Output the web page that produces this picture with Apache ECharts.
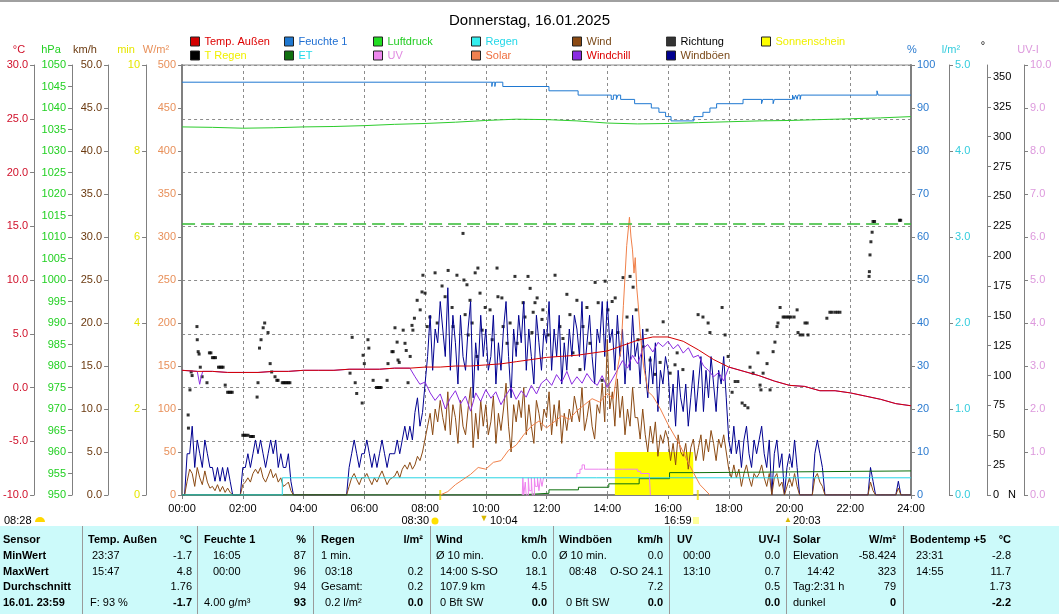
<!DOCTYPE html>
<html><head><meta charset="utf-8">
<script src="https://cdn.jsdelivr.net/npm/echarts@6/dist/echarts.min.js"></script>
<style>html,body{margin:0;padding:0;background:#fff}#c{width:1059px;height:614px}</style>
</head><body><div id="c"></div><script>
// ---------------- DATA ----------------
const titleText = 'Donnerstag, 16.01.2025';
const xTickLabels = ['00:00','02:00','04:00','06:00','08:00','10:00','12:00','14:00','16:00','18:00','20:00','22:00','24:00'];
const degTicks = [0,25,50,75,100,125,150,175,200,225,250,275,300,325,350];

// temperature every 30 min (°C)
const temp30 = [1.6,1.5,1.5,1.4,1.4,1.4,1.5,1.5,1.6,1.6,1.6,1.7,1.7,1.7,1.8,1.8,1.9,1.9,2.0,2.0,2.1,2.2,2.4,2.6,2.8,2.9,3.0,3.2,3.4,3.9,4.4,4.7,4.7,4.3,3.5,2.6,1.9,1.5,1.1,0.6,0.2,0.1,-0.3,-0.3,-0.5,-0.8,-1.1,-1.5,-1.7];
// pressure hourly (hPa)
const press60 = [1035.6,1035.5,1035.3,1035.4,1035.6,1035.7,1035.9,1036.2,1036.4,1036.7,1037.1,1037.4,1037.3,1037.0,1036.5,1036.3,1036.4,1036.6,1036.8,1037.0,1037.1,1037.3,1037.5,1037.7,1038.0];
const pressureRef = 1013;
// humidity change points [hour, %]
const humidity = [[0,96],[10.2,95],[10.22,96],[10.3,95],[10.32,96],[10.56,95],[12.08,94],[13.04,93],[14.13,92],[14.2,93],[14.3,92],[14.35,93],[14.44,92],[14.9,91],[15.45,90],[15.7,89],[15.92,88],[16.1,87],[16.85,88],[17.15,89],[17.38,90],[17.6,91],[18.47,92],[19.08,91],[19.12,92],[19.46,91],[19.5,92],[20.1,93],[20.15,92],[20.2,93],[20.25,92],[20.28,93],[20.35,92],[20.38,93],[22.88,94],[22.92,93],[24,93]];
// rain total [hour, l/m²]
const rain = [[0,0],[3.3,0],[3.3,0.2],[24,0.2]];
// ET change points [hour, l/m²]
const et = [[0,0],[11.05,0.02],[12.08,0.06],[13.05,0.09],[14.05,0.13],[15.05,0.19],[16.05,0.26],[17.05,0.28],[24,0.28]];
// UV [hour, UV-I]
const uv = [[11.2,0],[11.22,0.4],[11.25,0],[11.3,0.3],[11.33,0],[11.4,0.4],[11.43,0.1],[11.5,0.4],[11.53,0],[11.6,0.4],[11.63,0.2],[11.7,0.4],[11.75,0.1],[11.8,0.4],[11.85,0.2],[11.9,0.4],[12.0,0.4],[12.5,0.4],[12.9,0.4],[13.0,0.5],[13.1,0.6],[13.17,0.7],[13.25,0.6],[13.7,0.6],[14.0,0.6],[14.5,0.6],[14.9,0.6],[15.0,0.55],[15.1,0.5],[15.38,0.5],[15.42,0]];
// sunshine minutes per 10 min [hour, min]
const sunshine = [[14.25,1],[14.42,1],[14.58,1],[14.75,1],[14.92,1],[15.08,1],[15.25,1],[15.42,1],[15.58,1],[15.75,1],[15.92,1],[16.08,1],[16.25,1],[16.42,1],[16.58,1],[16.83,0]];
// solar radiation [hour, W/m²]
const solar = [[8.5,0],[8.75,4],[9.0,12],[9.25,18],[9.5,24],[9.75,32],[10.0,30],[10.25,38],[10.5,40],[10.75,52],[11.0,58],[11.25,70],[11.5,80],[11.75,86],[12.0,78],[12.25,85],[12.5,92],[12.75,88],[13.0,98],[13.25,105],[13.5,112],[13.75,108],[14.0,118],[14.2,112],[14.35,150],[14.45,168],[14.53,220],[14.64,290],[14.73,323],[14.78,300],[14.83,285],[14.88,258],[14.92,276],[14.97,241],[15.02,221],[15.08,190],[15.19,151],[15.35,120],[15.5,115],[15.75,100],[16.0,82],[16.39,58],[16.7,35],[17.05,12],[17.38,0]];
// wind gusts every 5 min (km/h)
const gust5 = [
0,0,4.8,4.8,8.0,3.2,6.4,4.8,3.2,6.4,4.8,3.2,
3.2,1.6,3.2,1.6,3.2,1.6,3.2,1.6,0,0,0,0,
3.2,3.2,4.8,3.2,4.8,6.4,4.8,6.4,4.8,3.2,4.8,6.4,
4.8,6.4,3.2,4.8,3.2,3.2,4.8,1.6,0,0,0,0,
0,0,0,0,0,0,0,0,0,0,0,0,
0,0,0,0,0,0,3.2,4.8,6.4,4.8,3.2,4.8,
4.8,6.4,4.8,3.2,4.8,3.2,4.8,6.4,4.8,3.2,4.8,4.8,
4.8,6.4,4.8,6.4,8.0,6.4,8.0,6.4,9.6,11.3,8.0,9.6,
12.9,16.1,20.9,14.5,19.3,17.7,22.5,19.3,16.1,24.1,14.5,20.9,
17.7,12.9,20.9,16.1,14.5,19.3,22.5,11.3,17.7,14.5,20.9,16.1,
19.3,14.5,16.1,20.9,12.9,17.7,14.5,19.3,22.5,16.1,11.3,19.3,
16.1,20.9,17.7,22.5,14.5,19.3,16.1,12.9,20.9,17.7,14.5,19.3,
17.7,22.5,14.5,19.3,16.1,20.9,12.9,17.7,14.5,19.3,16.1,20.9,
19.3,16.1,22.5,14.5,17.7,20.9,16.1,12.9,19.3,17.7,22.5,16.1,
22.5,17.7,19.3,14.5,20.9,16.1,19.3,12.9,17.7,14.5,20.9,16.1,
17.7,12.9,19.3,14.5,11.3,16.1,12.9,17.7,9.7,14.5,12.9,16.1,
14.5,9.7,12.9,8.0,14.5,11.3,9.7,12.9,8.0,11.3,14.5,9.7,
12.9,16.1,9.7,14.5,11.3,16.1,12.9,9.7,14.5,12.9,16.1,11.3,
6.4,4.8,8.0,4.8,6.4,3.2,6.4,8.0,4.8,3.2,6.4,4.8,
6.4,8.0,4.8,3.2,6.4,0,4.8,6.4,3.2,4.8,0,3.2,
4.8,3.2,6.4,3.2,0,0,0,0,0,0,4.8,6.4,
4.8,3.2,0,0,0,0,0,0,0,0,0,0,
0,0,0,0,0,0,0,0,3.2,1.6,0,0,
0,0,0,0,0,0,0,1.6,0,0,0,0,
0];
// wind speed every 5 min (km/h)
const wind5 = [
0,0,1.6,3.0,2.5,1.0,3.2,2.0,1.2,2.8,1.5,0.8,
1.0,0.5,1.2,0.4,1.0,0.3,0.8,0.3,0,0,0,0,
1.2,1.5,2.0,1.5,2.5,3.0,2.5,3.2,2.0,1.5,2.2,3.0,
2.0,2.5,1.5,2.0,1.0,1.2,1.5,0.5,0,0,0,0,
0,0,0,0,0,0,0,0,0,0,0,0,
0,0,0,0,0,0,1.0,2.0,2.5,1.8,1.2,2.0,
2.0,2.5,1.8,1.2,2.0,1.5,2.2,2.8,2.0,1.2,1.8,2.0,
2.2,2.8,2.0,3.0,3.5,3.0,3.8,3.0,3.5,4.5,4.0,5.0,
6.5,8.0,9.5,7.0,10.0,8.5,11.0,9.0,7.5,12.0,7.0,10.5,
9.0,6.0,11.0,8.0,7.0,10.0,12.5,5.5,9.5,6.5,11.0,8.0,
10.5,7.0,8.5,11.5,6.0,9.5,7.5,10.0,13.0,8.0,5.0,10.5,
8.5,11.0,9.0,12.5,7.0,10.5,8.0,6.0,11.0,9.5,7.5,10.0,
9.0,12.0,7.0,10.5,8.0,11.0,6.0,9.5,7.5,10.0,8.5,11.5,
10.0,8.5,12.5,7.5,9.0,11.0,8.0,6.5,10.5,9.5,13.0,8.5,
18.1,10.0,12.0,8.0,13.5,9.0,11.5,7.0,10.0,8.0,12.5,9.0,
9.0,6.5,10.0,7.0,5.0,8.0,6.0,8.5,4.5,7.0,6.0,7.5,
6.5,4.0,6.0,3.5,7.0,5.0,4.5,6.0,3.0,5.5,6.5,4.0,
5.5,7.0,4.0,6.5,5.0,7.5,6.0,4.0,6.5,5.5,7.0,5.0,
3.0,2.0,3.5,2.0,3.0,1.0,2.5,3.5,2.0,1.0,2.5,2.0,
2.5,3.5,2.0,1.0,2.5,0,2.0,2.5,1.0,1.5,0,1.0,
2.0,1.0,2.5,1.0,0,0,0,0,0,0,2.0,2.5,
1.5,1.0,0,0,0,0,0,0,0,0,0,0,
0,0,0,0,0,0,0,0,1.5,0.5,0,0,
0,0,0,0,0,0,0,0.8,0,0,0,0,
0];
// windchill [hour, °C]
const windchill = [[0,1.6],[0.5,1.5],[0.58,0.3],[0.63,1.0],[0.68,1.5],[1,1.5],[1.5,1.4],[2,1.4],[2.5,1.4],[3,1.5],[3.5,1.5],[4,1.6],[4.5,1.6],[5,1.6],[5.5,1.7],[6,1.7],[6.5,1.7],[7,1.8],[7.5,1.8],[7.67,1.0],[7.83,0.3],[8.0,0.5],[8.17,-0.5],[8.33,-1.2],[8.5,-0.6],[8.67,-2.0],[8.83,-1.0],[9.0,-0.3],[9.17,-1.5],[9.33,-0.8],[9.5,-2.2],[9.67,-0.5],[9.83,-1.3],[10.0,-0.2],[10.17,-1.0],[10.33,-0.4],[10.5,-1.6],[10.67,-0.7],[10.83,0.0],[11.0,-1.1],[11.17,-0.3],[11.33,-0.9],[11.5,0.2],[11.67,-0.6],[11.83,0.4],[12.0,0.8],[12.17,0.2],[12.33,1.2],[12.5,0.5],[12.67,1.5],[12.83,0.3],[13.0,1.0],[13.17,0.4],[13.33,1.3],[13.5,0.6],[13.67,0.2],[13.83,1.1],[14.0,0.0],[14.17,0.8],[14.33,1.6],[14.5,2.5],[14.67,1.8],[14.83,3.0],[15.0,2.2],[15.17,3.6],[15.33,4.0],[15.5,3.3],[15.67,4.2],[15.83,3.8],[16.0,4.3],[16.17,3.6],[16.33,4.0],[16.5,3.2],[16.67,3.7],[16.83,2.8],[17.0,3.0],[17.17,2.0],[17.33,1.6],[17.5,1.0],[17.67,1.4],[17.83,0.6],[18.0,1.9],[18.5,1.5],[19.0,1.1],[19.5,0.6],[20.0,0.2],[20.5,0.1],[21.0,-0.3],[21.5,-0.3],[22.0,-0.5],[22.5,-0.8],[23.0,-1.1],[23.5,-1.5],[24.0,-1.7]];
// wind direction [hour, degrees]
const direction = [[0.20,67],[0.21,56],[0.26,88],[0.30,103],[0.33,100],[0.49,141],[0.50,130],[0.53,120],[0.56,118],[0.6,107],[0.66,99],[0.82,94],[0.9,119],[0.95,119],[1.0,115],[1.05,115],[1.1,115],[1.2,107],[1.25,107],[1.3,107],[1.35,107],[1.42,92],[1.5,86],[1.55,86],[1.6,86],[1.65,86],
[2.0,50],[2.05,50],[2.1,50],[2.17,50],[2.25,49],[2.3,49],[2.35,49],[2.47,82],[2.5,94],[2.55,123],[2.6,130],[2.67,140],[2.72,144],[2.83,136],[2.9,110],[2.95,103],[3.06,99],[3.12,96],[3.16,96],[3.3,94],[3.35,94],[3.4,94],[3.45,94],[3.5,94],[3.55,94],
[5.53,102],[5.6,132],[5.7,94],[5.75,85],[5.93,77],[5.96,117],[6.0,110],[6.12,130],[6.15,123],[6.29,96],[6.4,90],[6.45,90],[6.5,90],[6.55,90],[6.75,96],[6.78,110],[6.91,120],[6.95,120],[7.01,140],[7.08,128],[7.11,113],[7.15,111],[7.28,138],[7.34,127],[7.38,121],[7.44,94],[7.51,116],[7.57,142],[7.6,138],[7.65,148],[7.74,163],[7.84,155],[7.9,170],[7.93,184],[8.0,169],[8.07,141],[8.16,149],[8.33,186],[8.4,144],[8.56,175],[8.66,166],[8.76,188],[8.89,157],[8.92,141],[9.05,184],[9.25,219],[9.28,180],[9.32,151],[9.38,176],[9.42,134],[9.48,163],[9.55,144],[9.65,186],[9.71,116],[9.74,190],[9.81,169],[9.88,138],[9.98,157],[10.14,155],[10.21,130],[10.37,190],[10.4,166],[10.53,165],[10.57,141],[10.7,127],[10.8,144],[10.96,183],[11.03,127],[11.23,161],[11.29,149],[11.39,183],[11.46,173],[11.52,136],[11.56,153],[11.62,161],[11.69,165],[11.85,147],[11.88,155],[12.05,134],[12.28,184],[12.44,141],[12.54,131],[12.67,168],[12.77,151],[12.87,119],[13.0,163],[13.1,105],[13.2,141],[13.33,157],[13.43,127],[13.6,178],[13.7,161],[13.83,96],[13.93,179],[14.02,155],[14.16,162],[14.26,165],[14.35,136],[14.52,182],[14.65,149],[14.75,183],[14.85,174],[14.95,155],[15.01,130],[15.18,124],[15.31,138],[15.41,113],[15.57,101],[15.74,111],[15.84,145],[16.07,102],[16.23,109],[16.3,119],[16.49,105],[16.99,151],[17.15,149],[17.32,144],[17.38,136],[17.78,157],[17.88,134],[17.98,116],[18.11,86],[18.21,95],[18.3,95],[18.44,77],[18.53,75],[18.63,73],[18.7,107],[18.8,102],[18.96,119],[19.03,92],[19.06,88],[19.13,102],[19.26,110],[19.36,88],[19.46,120],[19.52,128],[19.59,141],[19.62,144],[19.69,157],[19.79,149],[19.85,149],[19.92,149],[19.98,149],[20.05,149],[20.15,149],[20.25,155],[20.28,136],[20.35,134],[20.44,134],[20.51,144],[20.58,144],[20.61,134],[21.23,148],[21.33,153],[21.4,153],[21.5,153],[21.58,153],[21.66,153],[22.62,183],[22.63,187],[22.65,201],[22.68,212],[22.72,220],[22.75,229],[22.8,229],[23.62,230],[23.66,230]];
// sun events (sunrise/set ticks) [hour, value]
const sunMarks = [[8.5,0],[16.98,0]];

// table
const tableRowLabels = ['Sensor','MinWert','MaxWert','Durchschnitt','16.01. 23:59'];
const tableCols = [
 {head:'Temp. Außen', unit:'°C', left:['23:37','15:47','','F: 93 %'], mid:['','','',''], right:['-1.7','4.8','1.76','-1.7']},
 {head:'Feuchte 1', unit:'%', left:['16:05','00:00','','4.00 g/m³'], mid:['','','',''], right:['87','96','94','93']},
 {head:'Regen', unit:'l/m²', left:['1 min.','03:18','Gesamt:','0.2 l/m²'], mid:['','','',''], right:['','0.2','0.2','0.0']},
 {head:'Wind', unit:'km/h', left:['Ø 10 min.','14:00','107.9 km','0 Bft SW'], mid:['','S-SO','',''], right:['0.0','18.1','4.5','0.0']},
 {head:'Windböen', unit:'km/h', left:['Ø 10 min.','08:48','','0 Bft SW'], mid:['','O-SO','',''], right:['0.0','24.1','7.2','0.0']},
 {head:'UV', unit:'UV-I', left:['00:00','13:10','',''], mid:['','','',''], right:['0.0','0.7','0.5','0.0']},
 {head:'Solar', unit:'W/m²', left:['Elevation','14:42','Tag:2:31 h','dunkel'], mid:['','','',''], right:['-58.424','323','79','0']},
 {head:'Bodentemp +5', unit:'°C', left:['23:31','14:55','',''], mid:['','','',''], right:['-2.8','11.7','1.73','-2.2']}
];
const sunEvents = ['08:28','08:30','10:04','16:59','20:03'];

// ---------------- LAYOUT / STYLE ----------------
const FONT = '"Liberation Sans", Arial, sans-serif';
const C = {
  temp:'#d40000', hum:'#1f78d1', press:'#2ccc2c', rain:'#26d4e4', et:'#0c700c', uv:'#ee82ee',
  solar:'#f0804a', wind:'#8b4a13', chill:'#8a2be2', dir:'#000000', gust:'#000090', sun:'#ffff00'
};
const AX = {temp:'#d0102a', press:'#22d022', kmh:'#6b3a10', min:'#e6e600', wm2:'#e8905a', pct:'#2b7bd0', lm2:'#33ccdd', deg:'#000', uvi:'#dd99dd'};

const gustData = gust5.map((v,i)=>[i/12, v]);
const windData = wind5.map((v,i)=>[i/12, v]);
const tempData = temp30.map((v,i)=>[i/2, v]);
const pressData = press60.map((v,i)=>[i, v]);

function yAx(o){
  const lab = {color:o.color, fontFamily:FONT, fontSize:11, margin:6, formatter:o.fmt};
  const tick = {show:true, length:4, lineStyle:{color:'#808080'}};
  if (o.custom) { lab.customValues = o.custom; tick.customValues = o.custom; }
  return {
    type:'value', position:o.pos, offset:o.off, min:o.min, max:o.max, interval:o.interval,
    axisLine:{show:true, onZero:false, lineStyle:{color:'#808080', width:o.lw||1}},
    axisTick:tick, axisLabel:lab,
    splitLine:o.split ? {show:true, lineStyle:{color:'#8c8c8c', type:[3,3], width:1}} : {show:false}
  };
}
const f1 = v => v.toFixed(1);
const f0 = v => String(Math.round(v));

const yAxes = [
  yAx({pos:'left', off:0, min:0, max:500, interval:50, color:AX.wm2, fmt:f0, lw:2}),          //0 W/m2
  yAx({pos:'left', off:36, min:0, max:10, interval:2, color:AX.min, fmt:f0}),                  //1 min
  yAx({pos:'left', off:74, min:0, max:50, interval:5, color:AX.kmh, fmt:f1}),                  //2 km/h
  yAx({pos:'left', off:110, min:950, max:1050, interval:5, color:AX.press, fmt:f0}),           //3 hPa
  yAx({pos:'left', off:148, min:-10, max:30, interval:5, color:AX.temp, fmt:f1, split:true}),  //4 °C
  yAx({pos:'right', off:0, min:0, max:100, interval:10, color:AX.pct, fmt:f0, lw:2}),          //5 %
  yAx({pos:'right', off:38, min:0, max:5, interval:1, color:AX.lm2, fmt:f1}),                  //6 l/m2
  yAx({pos:'right', off:76, min:0, max:360, interval:25, color:AX.deg, fmt:f0, custom:degTicks}), //7 deg
  yAx({pos:'right', off:113, min:0, max:10, interval:1, color:AX.uvi, fmt:f1})                 //8 UV-I
];

function lineS(name, data, yi, color, extra){
  return Object.assign({name, type:'line', data, yAxisIndex:yi, showSymbol:false, symbol:'none',
    lineStyle:{color, width:1}, itemStyle:{color}, animation:false}, extra||{});
}

const series = [
  lineS('Sonnenschein', sunshine, 1, C.sun, {step:'end', lineStyle:{width:0, color:C.sun}, areaStyle:{color:C.sun, opacity:1}}),
  lineS('Feuchte 1', humidity, 5, C.hum, {step:'end'}),
  lineS('Luftdruck', pressData, 3, C.press, {markLine:{silent:true, symbol:'none', label:{show:false}, lineStyle:{color:'#33bb33', type:[13,6], width:1.5}, data:[{yAxis:pressureRef}]}}),
  lineS('Windböen', gustData, 2, C.gust),
  lineS('Wind', windData, 2, C.wind),
  lineS('ET', et, 6, C.et, {step:'end'}),
  lineS('UV', uv, 8, C.uv, {step:'end'}),
  lineS('Regen', rain, 6, C.rain),
  lineS('Windchill', windchill, 4, C.chill),
  lineS('Solar', solar, 0, C.solar),
  lineS('Temp. Außen', tempData, 4, C.temp),
  {name:'Richtung', type:'scatter', data:direction, yAxisIndex:7, symbol:'rect', symbolSize:3, itemStyle:{color:C.dir}, animation:false},
  lineS('T Regen', [], 6, '#000'),
  {name:'sunmarks', type:'scatter', data:sunMarks, yAxisIndex:1, symbol:'rect', symbolSize:[2,10], itemStyle:{color:'#f0e000'}, clip:false, animation:false}
];

// legends
const legendItems = [
  {name:'Temp. Außen', x:190, row:0, icon:C.temp, text:'#dd0000'},
  {name:'Feuchte 1', x:284, row:0, icon:C.hum, text:'#1e6ed2'},
  {name:'Luftdruck', x:373, row:0, icon:'#22dd22', text:'#22cc22'},
  {name:'Regen', x:471, row:0, icon:'#33eeee', text:'#22d8e8'},
  {name:'Wind', x:572, row:0, icon:C.wind, text:'#7b4a1a'},
  {name:'Richtung', x:666, row:0, icon:'#000', text:'#000'},
  {name:'Sonnenschein', x:761, row:0, icon:C.sun, text:'#f0f000'},
  {name:'T Regen', x:190, row:1, icon:'#000', text:'#f0f000'},
  {name:'ET', x:284, row:1, icon:'#107010', text:'#22d8e8'},
  {name:'UV', x:373, row:1, icon:'#ee88ee', text:'#e08ae0'},
  {name:'Solar', x:471, row:1, icon:'#f08050', text:'#f07040'},
  {name:'Windchill', x:572, row:1, icon:C.chill, text:'#dd0000'},
  {name:'Windböen', x:666, row:1, icon:'#000090', text:'#7b4a1a'}
];
const legends = legendItems.map(it => ({
  left: it.x - 5, top: (it.row ? 55 : 41) - 5 - 5, padding:5, icon:'rect', itemWidth:9, itemHeight:9, selectedMode:false,
  textStyle:{fontFamily:FONT, fontSize:11},
  data:[{name:it.name, icon:'rect', itemStyle:{color:it.icon, borderColor:'#222', borderWidth:1}, textStyle:{color:it.text, fontFamily:FONT, fontSize:11}}]
}));

// graphics
const G = [];
function T(x, y, text, o){
  o = o || {};
  G.push({type:'text', x, y, silent:true, z:100, style:{text, fill:o.color||'#000', font:(o.bold?'bold ':'')+(o.size||11)+'px '+FONT, align:o.align||'left', verticalAlign:'middle'}});
}
G.push({type:'rect', shape:{x:0, y:0, width:1059, height:2}, style:{fill:'#a0a0a0'}, silent:true});
// axis units
T(19,50,'°C',{color:AX.temp, align:'center'});
T(51,50,'hPa',{color:AX.press, align:'center'});
T(85,50,'km/h',{color:AX.kmh, align:'center'});
T(126,50,'min',{color:AX.min, align:'center'});
T(156,50,'W/m²',{color:AX.wm2, align:'center'});
T(912,50,'%',{color:AX.pct, align:'center'});
T(951,50,'l/m²',{color:AX.lm2, align:'center'});
T(983,46,'°',{color:'#000', align:'center'});
T(1028,50,'UV-I',{color:AX.uvi, align:'center'});
T(1012,495,'N',{color:'#000', align:'center'});
// sun events under axis
T(4,521,sunEvents[0]);
G.push({type:'sector', shape:{cx:40, cy:522, r:5, startAngle:Math.PI, endAngle:Math.PI*2}, style:{fill:'#ffd800'}, silent:true});
T(429,521,sunEvents[1],{align:'right'});
G.push({type:'circle', shape:{cx:435, cy:521, r:3.5}, style:{fill:'#ffe000'}, silent:true});
T(484,519,'▼',{color:'#d8b800', size:9, align:'center'});
T(490,521,sunEvents[2]);
T(664,521,sunEvents[3]);
G.push({type:'rect', shape:{x:693, y:517, width:6, height:7}, style:{fill:'#ffff99'}, silent:true});
T(788,520,'▲',{color:'#d8b800', size:8, align:'center'});
T(793,521,sunEvents[4]);
// table
G.push({type:'rect', shape:{x:0, y:526, width:1059, height:88}, style:{fill:'#ccfafa'}, silent:true, z:50});
const seps = [82,197,313,430,553,669,786,903];
seps.forEach(x => G.push({type:'rect', shape:{x:x, y:526, width:1, height:88}, style:{fill:'#9a9a9a'}, silent:true, z:60}));
const rowY = [540,556,571.5,587,603];
tableRowLabels.forEach((t,i)=>T(3,rowY[i],t,{bold:true}));
const colHeadX = [88,204,321,436,559,677,793,910];
const colRightX = [192,306,423,547,663,780,896,1011];
const colLeftX = [
  [92,92,92,90],[213,213,213,204],[321,325,321,325],[436,440,440,440],
  [559,569,569,566],[683,683,683,683],[793,807,793,793],[916,916,916,916]
];
const colMidX = [0,0,0,471,610,0,0,0];
tableCols.forEach((c,ci)=>{
  T(colHeadX[ci], rowY[0], c.head, {bold:true});
  T(colRightX[ci], rowY[0], c.unit, {bold:true, align:'right'});
  for(let r=0;r<4;r++){
    if(c.left[r]) T(colLeftX[ci][r], rowY[r+1], c.left[r]);
    if(c.mid[r]) T(colMidX[ci], rowY[r+1], c.mid[r]);
    if(c.right[r]) T(colRightX[ci], rowY[r+1], c.right[r], {align:'right', bold:r===3});
  }
});

const option = {
  animation:false,
  backgroundColor:'#ffffff',
  title:{text:titleText, left:'center', top:8, textStyle:{fontFamily:FONT, fontSize:15, fontWeight:'normal', color:'#000'}},
  legend:legends,
  grid:{left:182, right:148, top:65, bottom:119, show:true, borderColor:'#8a8a8a', borderWidth:1, containLabel:false},
  xAxis:{type:'value', min:0, max:24, interval:2,
    axisLine:{show:true, onZero:false, lineStyle:{color:'#808080', width:2}},
    axisTick:{show:true, length:4, lineStyle:{color:'#808080'}},
    axisLabel:{color:'#000', fontFamily:FONT, fontSize:11, margin:8, formatter:v=>xTickLabels[Math.round(v/2)]},
    splitLine:{show:true, lineStyle:{color:'#8c8c8c', type:[3,3], width:1}}},
  yAxis:yAxes,
  series:series,
  graphic:G
};
const chart = echarts.init(document.getElementById('c'), null, {renderer:'canvas'});
chart.setOption(option);
</script></body></html>
